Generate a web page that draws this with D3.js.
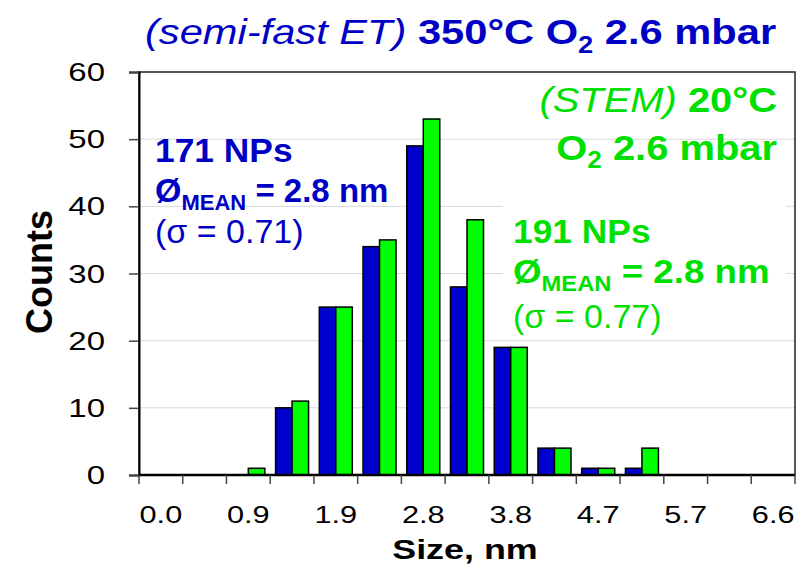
<!DOCTYPE html>
<html>
<head>
<meta charset="utf-8">
<script src="https://cdn.jsdelivr.net/npm/d3@7"></script>
<style>
  body { margin: 0; background: #fff; }
  svg text { white-space: pre; font-family: "Liberation Sans", Arial, sans-serif; }
</style>
</head>
<body>
<svg width="800" height="571"></svg>
<script>
// size bins (nm) and the two count series
let binLabels = ["0.0", "0.5", "0.9", "1.4", "1.9", "2.4", "2.8", "3.3", "3.8", "4.2", "4.7", "5.2", "5.7", "6.1", "6.6"];
let seriesNames = ["semi-fast ET 350C", "STEM 20C"];
let countsET   = [0, 0, 0, 10, 25, 34, 49, 28, 19, 4, 1, 1, 0, 0, 0];
let countsSTEM = [0, 0, 1, 11, 25, 35, 53, 38, 19, 4, 1, 4, 0, 0, 0];
let yTicks = [0, 10, 20, 30, 40, 50, 60];

let blue = "#0000CC", green = "#00FF00";
let blueText = "#0000C4", greenText = "#00E000";

let svg = d3.select("svg");
let plotL = 139, plotR = 795, plotT = 72, plotB = 475;

// scales
let x = d3.scaleBand().domain(binLabels).range([plotL, plotR]).padding(0);
let xSub = d3.scaleBand().domain(seriesNames).range([0, x.bandwidth()])
  .paddingInner(0).paddingOuter(0.325);
let y = d3.scaleLinear().domain([0, 60]).range([plotB, plotT]);
let color = d3.scaleOrdinal().domain(seriesNames).range([blue, green]);

// gridlines
svg.append("g")
  .selectAll("line")
  .data(yTicks.filter(d => d > 0 && d < 60))
  .join("line")
    .attr("x1", plotL).attr("x2", plotR)
    .attr("y1", d => y(d)).attr("y2", d => y(d))
    .attr("stroke", "#d9d9d9").attr("stroke-width", 1);

// white box behind green stats (covers the gridlines there)
svg.append("rect")
  .attr("x", 503).attr("y", 200).attr("width", 283).attr("height", 136)
  .attr("fill", "#fff");

// bars
let table = binLabels.map((b, i) => ({ bin: b, vals: [countsET[i], countsSTEM[i]] }));
svg.append("g")
  .selectAll("g")
  .data(table)
  .join("g")
    .attr("transform", d => "translate(" + x(d.bin) + ",0)")
  .selectAll("rect")
  .data(d => d.vals.map((v, k) => ({ key: seriesNames[k], value: v })).filter(e => e.value > 0))
  .join("rect")
    .attr("x", d => xSub(d.key))
    .attr("y", d => y(d.value))
    .attr("width", xSub.bandwidth())
    .attr("height", d => y(0) - y(d.value))
    .attr("fill", d => color(d.key))
    .attr("stroke", "#000")
    .attr("stroke-width", 1.5);

// plot frame
svg.append("rect")
  .attr("x", plotL).attr("y", plotT)
  .attr("width", plotR - plotL).attr("height", plotB - plotT)
  .attr("fill", "none").attr("stroke", "#222").attr("stroke-width", 1.5);

// y axis
let yAxis = d3.axisLeft(y).tickValues(yTicks).tickSize(10).tickFormat("");
let gy = svg.append("g").attr("transform", "translate(" + plotL + ",0)").call(yAxis);
gy.select(".domain").attr("stroke", "#000").attr("stroke-width", 2);
gy.selectAll(".tick line").attr("stroke", "#444").attr("stroke-width", 1.5);
svg.append("g")
  .selectAll("text")
  .data(yTicks)
  .join("text")
    .attr("transform", d => "translate(105," + (y(d) + 9) + ") scale(1.32,1)")
    .attr("text-anchor", "end")
    .attr("font-size", 25)
    .attr("fill", "#000")
    .text(d => d);

// x axis: ticks on the bin boundaries, a label on every other bin
let boundaries = binLabels.map(b => x(b)).concat([plotR]);
svg.append("line")
  .attr("x1", plotL).attr("x2", plotR).attr("y1", plotB).attr("y2", plotB)
  .attr("stroke", "#000").attr("stroke-width", 2.5);
svg.append("g")
  .selectAll("line")
  .data(boundaries)
  .join("line")
    .attr("x1", d => d).attr("x2", d => d)
    .attr("y1", plotB).attr("y2", plotB + 9)
    .attr("stroke", "#444").attr("stroke-width", 1.5);
svg.append("g")
  .selectAll("text")
  .data(binLabels.filter((b, i) => i % 2 == 0))
  .join("text")
    .attr("transform", d => "translate(" + (x(d) + x.bandwidth() / 2) + ",523) scale(1.28,1)")
    .attr("text-anchor", "middle")
    .attr("font-size", 24)
    .attr("fill", "#000")
    .text(d => d);

// axis titles
svg.append("text")
  .attr("transform", "translate(465,559) scale(1.33,1)")
  .attr("text-anchor", "middle")
  .attr("font-size", 27).attr("font-weight", "bold")
  .text("Size, nm");
svg.append("text")
  .attr("transform", "translate(52,272) rotate(-90)")
  .attr("text-anchor", "middle")
  .attr("font-size", 36).attr("font-weight", "bold")
  .text("Counts");

// text helper: several styled runs in one line
function addText(px, py, anchor, sx, fill, parts) {
  let t = svg.append("text")
    .attr("transform", "translate(" + px + "," + py + ") scale(" + sx + ",1)")
    .attr("text-anchor", anchor)
    .attr("fill", fill);
  parts.forEach(p => {
    t.append("tspan")
      .attr("font-size", p.size)
      .attr("font-weight", p.bold ? "bold" : "normal")
      .attr("font-style", p.italic ? "italic" : "normal")
      .attr("dy", p.dy || 0)
      .text(p.t);
  });
}

// title
addText(145, 44, "start", 1.19, blueText, [
  { t: "(semi-fast ET)", size: 35, italic: true },
  { t: " 350°C O", size: 35, bold: true },
  { t: "2", size: 23, bold: true, dy: 9 },
  { t: " 2.6 mbar", size: 35, bold: true, dy: -9 }
]);

// green header
addText(777, 112, "end", 1.14, greenText, [
  { t: "(STEM)", size: 35, italic: true },
  { t: " 20°C", size: 35, bold: true }
]);
addText(777, 160, "end", 1.14, greenText, [
  { t: "O", size: 35, bold: true },
  { t: "2", size: 23, bold: true, dy: 8 },
  { t: " 2.6 mbar", size: 35, bold: true, dy: -8 }
]);

// blue stats
addText(155, 162, "start", 1.04, blueText, [{ t: "171 NPs", size: 34, bold: true }]);
addText(155, 202, "start", 1.0, blueText, [
  { t: "Ø", size: 34, bold: true },
  { t: "MEAN", size: 22, bold: true, dy: 8 },
  { t: " = 2.8 nm", size: 33, bold: true, dy: -8 }
]);
addText(155, 243, "start", 1.0, blueText, [{ t: "(σ = 0.71)", size: 34 }]);

// green stats
addText(513, 243, "start", 1.04, greenText, [{ t: "191 NPs", size: 34, bold: true }]);
addText(513, 283, "start", 1.08, greenText, [
  { t: "Ø", size: 34, bold: true },
  { t: "MEAN", size: 22, bold: true, dy: 8 },
  { t: " = 2.8 nm", size: 34, bold: true, dy: -8 }
]);
addText(513, 328, "start", 1.0, greenText, [{ t: "(σ = 0.77)", size: 34 }]);
</script>
</body>
</html>
